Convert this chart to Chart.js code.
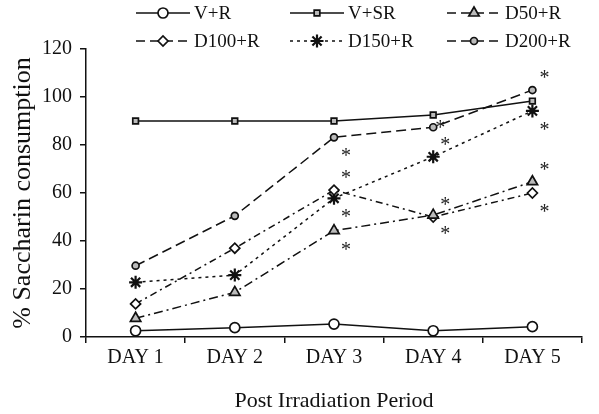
<!DOCTYPE html>
<html><head><meta charset="utf-8">
<script src="https://cdn.jsdelivr.net/npm/chart.js@4/dist/chart.umd.min.js"></script>
<style>html,body{margin:0;padding:0;background:#fff}#wrap{width:599px;height:414px}</style>
</head><body><div id="wrap"><canvas id="c" width="599" height="414"></canvas></div>
<script>
const categories = ['DAY 1','DAY 2','DAY 3','DAY 4','DAY 5'];
const seriesNames = ['V+R','V+SR','D50+R','D100+R','D150+R','D200+R'];
const vR    = [2.6, 3.9, 5.4, 2.6, 4.3];
const vSR   = [90, 90, 90, 92.5, 98.3];
const d50   = [7.8, 18.6, 44.3, 50.8, 64.7];
const d100  = [13.8, 37, 61.2, 50, 60];
const d150  = [22.8, 25.8, 57.8, 75.1, 94.2];
const d200  = [29.7, 50.5, 83.2, 87.4, 102.9];
const yTicks = [0, 20, 40, 60, 80, 100, 120];
// significance asterisks: [series index, day index, side]
const stars = [
  [5,2,'below'],[3,2,'above'],[4,2,'below'],[2,2,'below'],
  [5,3,'left'],[4,3,'above'],[3,3,'above'],[2,3,'below'],
  [5,4,'above'],[4,4,'below'],[2,4,'above'],[3,4,'below']
];

const FONT = '"Liberation Serif", "Times New Roman", serif';
const styles = [
  {dash:[], ps:'circle', r:5, fill:'#fff'},
  {dash:[], ps:'rect', r:4, fill:'#bbb'},
  {dash:[9,4,2,4], ps:'triangle', r:6, fill:'#bbb'},
  {dash:[7,4,2,4], ps:'rectRot', r:5, fill:'#fff'},
  {dash:[3,4], ps:'star', r:6.5, fill:'#222'},
  {dash:[10,5], ps:'circle', r:3.5, fill:'#bbb'}
];
const values = [vR, vSR, d50, d100, d150, d200];
const datasets = values.map((v,i)=>({
  label: seriesNames[i], data: v,
  borderColor:'#111', borderWidth:1.5, borderDash: styles[i].dash,
  pointStyle: styles[i].ps, pointRadius: styles[i].r, pointBackgroundColor: styles[i].fill,
  pointBorderColor:'#111', pointBorderWidth: i===4 ? 2.2 : 1.7, fill:false, tension:0
}));

const legendPlugin = {
  id:'customLegend',
  afterDraw(chart){
    const ctx = chart.ctx;
    const cols = [136, 290, 447];
    const rows = [13, 41];
    ctx.save();
    chart.data.datasets.forEach((ds,i)=>{
      const x0 = cols[i%3], y = rows[Math.floor(i/3)], x1 = x0+54;
      ctx.strokeStyle='#111'; ctx.lineWidth=1.5;
      ctx.setLineDash(styles[i].dash.length? [9,5] : []);
      if (i===4) ctx.setLineDash([3,4]);
      ctx.beginPath(); ctx.moveTo(x0,y); ctx.lineTo(x1,y); ctx.stroke();
      ctx.setLineDash([]);
      ctx.fillStyle = styles[i].fill; ctx.lineWidth = i===4 ? 2.2 : 1.7;
      Chart.helpers.drawPoint(ctx, {pointStyle: styles[i].ps, radius: styles[i].r, borderWidth:1.7, rotation:0}, (x0+x1)/2, y);
      ctx.fillStyle='#111'; ctx.font='19px '+FONT; ctx.textBaseline='middle'; ctx.textAlign='left';
      ctx.fillText(ds.label, x1+4, y+1);
    });
    ctx.restore();
  }
};

const starPlugin = {
  id:'stars',
  afterDatasetsDraw(chart){
    const ctx = chart.ctx, xs = chart.scales.x, ys = chart.scales.y;
    ctx.save();
    ctx.fillStyle='#222'; ctx.font='20px '+FONT; ctx.textAlign='center'; ctx.textBaseline='alphabetic';
    stars.forEach(([s,d,side])=>{
      let x = xs.getPixelForValue(d) + 12, y = ys.getPixelForValue(values[s][d]);
      if (side==='above') y -= 17; else if (side==='below') y += 14; else { x -= 5; y -= 4; }
      ctx.fillText('*', x, y + 11);
    });
    ctx.restore();
  }
};

new Chart(document.getElementById('c'), {
  type:'line',
  data:{labels:categories, datasets},
  options:{
    responsive:false, animation:false, devicePixelRatio:1,
    layout:{padding:{top:49, right:17, left:4, bottom:0}},
    plugins:{legend:{display:false}, tooltip:{enabled:false}},
    scales:{
      x:{
        offset:true,
        grid:{offset:true, drawOnChartArea:false, drawTicks:true, tickLength:6, color:'#111', lineWidth:1.5},
        border:{color:'#111', width:1.5},
        ticks:{color:'#111', font:{family:FONT, size:20}, padding:3, maxRotation:0},
        title:{display:true, text:'Post Irradiation Period', color:'#111', font:{family:FONT, size:22}, padding:{top:17, bottom:0}},
        afterFit(s){ s.height = 77; }
      },
      y:{
        min:0, max:120,
        afterBuildTicks(s){ s.ticks = yTicks.map(v=>({value:v})); },
        grid:{drawOnChartArea:false, drawTicks:true, tickLength:6, color:'#111', lineWidth:1.5},
        border:{color:'#111', width:1.5},
        ticks:{color:'#111', font:{family:FONT, size:20}, padding:8},
        title:{display:true, text:'% Saccharin consumption', color:'#111', font:{family:FONT, size:26}, padding:{bottom:2}},
        afterFit(s){ s.width = 82; }
      }
    }
  },
  plugins:[legendPlugin, starPlugin]
});
</script></body></html>
